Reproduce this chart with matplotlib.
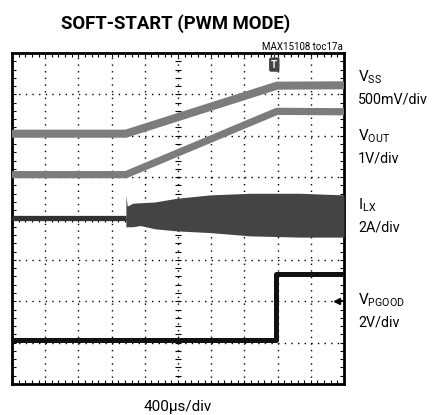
import numpy as np
import matplotlib.pyplot as plt

# scope screen: 10 divisions across, 8 divisions tall; values in divisions
vss_t = [0.0, 3.43, 7.98, 10.0]
vss_v = [6.05, 6.05, 7.21, 7.22]

vout_t = [0.0, 3.43, 7.98, 10.0]
vout_v = [5.06, 5.06, 6.59, 6.58]

ilx_pre_t = [0.0, 3.43]
ilx_pre_v = [4.02, 4.02]

ilx_t = [3.43, 3.47, 3.64, 3.86, 4.31, 4.97, 5.96, 7.17, 8.67, 10.0]
ilx_hi = [4.57, 4.30, 4.37, 4.38, 4.40, 4.49, 4.57, 4.61, 4.61, 4.57]
ilx_lo = [3.79, 3.80, 3.80, 3.83, 3.75, 3.70, 3.66, 3.58, 3.55, 3.55]

pg_t = [0.0, 7.95, 7.95, 10.0]
pg_v = [1.07, 1.07, 2.66, 2.66]

trig_x = 7.9
pg_ground = 2.0

labels = [("$\\mathregular{V_{SS}}$", "500mV/div", 82),
          ("$\\mathregular{V_{OUT}}$", "1V/div", 141),
          ("$\\mathregular{I_{LX}}$", "2A/div", 210),
          ("$\\mathregular{V_{PGOOD}}$", "2V/div", 305)]

plt.rcParams['font.family'] = ['Roboto', 'DejaVu Sans']
plt.rcParams['mathtext.fontset'] = 'custom'
plt.rcParams['mathtext.rm'] = 'Roboto'

W, H = 432, 415
fig = plt.figure(figsize=(W / 100, H / 100), dpi=100)
ax = fig.add_axes([12 / W, (H - 384) / H, 332 / W, 331 / H])
ax.set_xlim(0, 10)
ax.set_ylim(0, 8)

# dotted graticule
for gx in range(1, 10):
    ax.axvline(gx, color='black', lw=1.0, ls=(0, (1, 3.78)), zorder=1)
for gy in range(1, 8):
    ax.axhline(gy, color='black', lw=1.0, ls=(0, (1, 3.78)), zorder=1)

# centre lines with small ticks
ty = np.arange(0, 8.01, 0.2)
tx = np.arange(0, 10.01, 0.2)
ax.plot(np.full(len(ty), 5.0), ty, ls='none', marker='_', ms=5, mew=0.8, color='black', zorder=1)
ax.plot(tx, np.full(len(tx), 4.0), ls='none', marker='|', ms=5, mew=0.8, color='black', zorder=1)

ax.set_xticks(range(0, 11))
ax.set_yticks(range(0, 9))
ax.set_xticks(tx, minor=True)
ax.set_yticks(ty, minor=True)
ax.tick_params(which='both', direction='in', top=True, right=True,
               labelbottom=False, labelleft=False, length=3, width=0.8)
for s in ax.spines.values():
    s.set_linewidth(2.0)

# traces
ax.plot(vss_t, vss_v, color='#7c7c7c', lw=5.8, solid_capstyle='butt', zorder=3)
ax.plot(vout_t, vout_v, color='#7c7c7c', lw=5.2, solid_capstyle='butt', zorder=3)
ax.plot(ilx_pre_t, ilx_pre_v, color='#333333', lw=3.8, solid_capstyle='butt', zorder=3)
ax.fill_between(ilx_t, ilx_lo, ilx_hi, color='#444444', lw=0, zorder=3)
ax.plot(pg_t, pg_v, color='#111111', lw=3.6, solid_capstyle='butt', zorder=4)

# trigger marker and ground marker
ax.plot([trig_x, trig_x], [8.0, 7.85], color='#333333', lw=1.0, clip_on=False, zorder=5)
ax.text(trig_x, 7.72, "T", ha='center', va='center', fontsize=7, color='white',
        fontweight='bold', zorder=6,
        bbox=dict(boxstyle='round,pad=0.15', fc='#444444', ec='#444444'))
ax.plot([9.8], [pg_ground], marker='<', ms=5, color='black', clip_on=False, zorder=5)
ax.plot([9.8, 10.0], [pg_ground, pg_ground], color='black', lw=1.2, zorder=5)

# text
fig.text(176 / W, 1 - 24 / H, "SOFT-START (PWM MODE)", ha='center', va='center',
         fontsize=13.3, fontweight='bold')
fig.text(343 / W, 1 - 47 / H, "MAX15108 toc17a", ha='right', va='center', fontsize=7)
for name, scale, base in labels:
    fig.text(358 / W, 1 - base / H, name, ha='left', va='baseline', fontsize=11)
    fig.text(358 / W, 1 - (base + 21) / H, scale, ha='left', va='baseline', fontsize=10.3)
fig.text(178 / W, 1 - 407 / H, "400µs/div", ha='center', va='center', fontsize=11)

fig.savefig("out.png", dpi=100)
